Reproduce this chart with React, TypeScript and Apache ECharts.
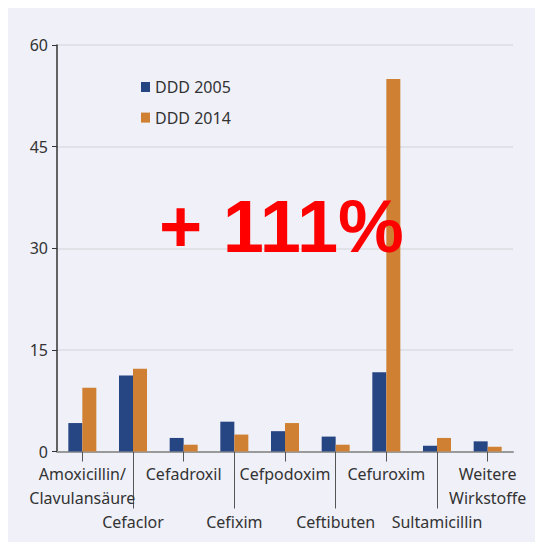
import React, { useEffect, useRef } from "react";
import * as echarts from "echarts";

const categories = [
  "Amoxicillin/\nClavulansäure",
  "Cefaclor",
  "Cefadroxil",
  "Cefixim",
  "Cefpodoxim",
  "Ceftibuten",
  "Cefuroxim",
  "Sultamicillin",
  "Weitere\nWirkstoffe",
];
const ddd2005 = [4.2, 11.2, 2.0, 4.4, 3.0, 2.2, 11.7, 0.85, 1.5];
const ddd2014 = [9.4, 12.2, 1.0, 2.5, 4.2, 1.0, 55.0, 2.0, 0.7];
const seriesNames = ["DDD 2005", "DDD 2014"];
const yTicks = { min: 0, max: 60, interval: 15 };
const annotation = "+ 111%";

const FONT = "'Noto Sans', sans-serif";

export default function App() {
  const ref = useRef<HTMLDivElement>(null);
  useEffect(() => {
    if (!ref.current) return;
    const chart = echarts.init(ref.current, undefined, { renderer: "svg" });
    chart.setOption({
      animation: false,
      backgroundColor: "#ffffff",
      graphic: [
        {
          type: "rect",
          z: -10,
          silent: true,
          shape: { x: 6, y: 8, width: 532, height: 542 },
          style: { fill: "#eff0f8" },
        },
        {
          type: "text",
          z: 100,
          left: 159,
          top: 189,
          style: {
            text: annotation,
            fill: "#ff0000",
            font: "bold 74px 'Liberation Sans', Arial, sans-serif",
          },
        },
      ],
      legend: {
        orient: "vertical",
        left: 141,
        top: 79,
        padding: 0,
        icon: "rect",
        itemWidth: 9,
        itemHeight: 10,
        itemGap: 14.6,
        data: seriesNames,
        textStyle: { fontFamily: FONT, fontSize: 16, color: "#333", lineHeight: 16 },
      },
      grid: { left: 57, right: 30, top: 45, bottom: 98.5, containLabel: false },
      xAxis: [
        {
          type: "category",
          data: categories,
          position: "bottom",
          axisLine: { show: true, lineStyle: { color: "#9a9a9a", width: 2 } },
          axisTick: {
            show: true,
            alignWithLabel: true,
            length: 10,
            interval: (i: number) => i % 2 === 0,
            lineStyle: { color: "#555", width: 1 },
          },
          axisLabel: {
            interval: 0,
            margin: 10,
            fontFamily: FONT,
            fontSize: 16,
            color: "#333",
            lineHeight: 24,
            formatter: (v: string, i: number) => (i % 2 === 1 ? "\n\n" + v : v),
          },
        },
        {
          type: "category",
          data: categories,
          position: "bottom",
          axisLine: { show: false },
          axisTick: {
            show: true,
            alignWithLabel: true,
            length: 57,
            interval: (i: number) => i % 2 === 1,
            lineStyle: { color: "#555", width: 1 },
          },
          axisLabel: { show: false },
        },
      ],
      yAxis: {
        type: "value",
        min: yTicks.min,
        max: yTicks.max,
        interval: yTicks.interval,
        axisLine: { show: true, lineStyle: { color: "#333", width: 1.5 } },
        axisTick: { show: true, length: 5, lineStyle: { color: "#333" } },
        axisLabel: { margin: 9, fontFamily: FONT, fontSize: 16, color: "#333" },
        splitLine: { show: true, lineStyle: { color: "#dcdde3", width: 1.5 } },
      },
      series: [
        {
          name: seriesNames[0],
          type: "bar",
          xAxisIndex: 0,
          data: ddd2005,
          barWidth: 14,
          barGap: "0%",
          itemStyle: { color: "#264583" },
        },
        {
          name: seriesNames[1],
          type: "bar",
          xAxisIndex: 0,
          data: ddd2014,
          barWidth: 14,
          barGap: "0%",
          itemStyle: { color: "#d08032" },
        },
      ],
    });
    return () => chart.dispose();
  }, []);
  return <div ref={ref} style={{ width: 543, height: 550, margin: -8 }} />;
}
